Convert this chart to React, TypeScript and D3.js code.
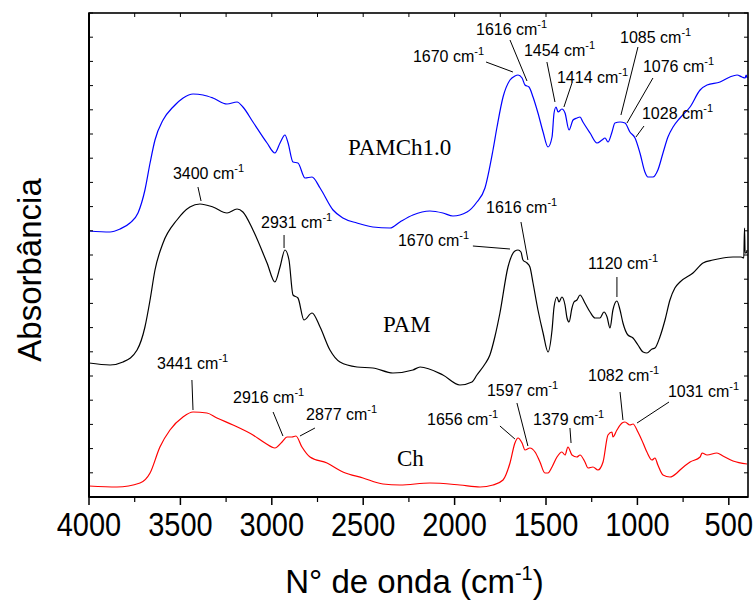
import React from 'react';
import * as d3 from 'd3';

// ---- Data (wavenumber cm^-1, absorbance a.u., stacked/offset) ----
const PAMCH_WN = [4000,3885,3830,3776,3732,3694,3666,3639,3595,3540,3485,3431,3376,3322,3245,3190,3158,3103,3026,2983,2955,2928,2911,2884,2857,2818,2780,2736,2665,2611,2534,2447,2353,2299,2228,2135,2064,2009,1932,1878,1834,1790,1768,1735,1697,1670,1653,1631,1615,1593,1571,1544,1516,1489,1467,1456,1445,1434,1413,1396,1374,1352,1331,1314,1298,1259,1221,1194,1177,1161,1139,1123,1095,1068,1041,1013,986,959,943,915,888,860,833,805,767,712,657,619,548,494,455,428,411,405,400];
const PAMCH_ABS = [2.66,2.65,2.68,2.74,2.84,3.07,3.34,3.57,3.77,3.90,3.99,4.03,4.02,3.99,3.93,3.95,3.90,3.75,3.54,3.44,3.54,3.62,3.54,3.35,3.34,3.19,3.20,3.09,2.87,2.79,2.74,2.70,2.69,2.75,2.82,2.86,2.84,2.81,2.85,2.95,3.09,3.47,3.70,4.00,4.17,4.21,4.22,4.19,4.12,4.10,4.00,3.84,3.65,3.50,3.60,3.84,3.90,3.85,3.88,3.84,3.67,3.77,3.79,3.80,3.75,3.64,3.54,3.57,3.59,3.55,3.65,3.74,3.75,3.74,3.65,3.59,3.44,3.25,3.20,3.20,3.27,3.44,3.60,3.70,3.79,3.90,4.07,4.12,4.15,4.20,4.22,4.20,4.19,4.22,4.19];

const PAM_WN = [4000,3885,3814,3737,3694,3666,3639,3595,3519,3448,3393,3322,3245,3190,3158,3103,3026,2983,2955,2928,2906,2884,2857,2824,2780,2736,2682,2627,2534,2447,2337,2228,2189,2064,1971,1905,1878,1834,1807,1780,1752,1708,1686,1670,1653,1637,1626,1604,1588,1571,1544,1516,1489,1467,1456,1440,1429,1413,1396,1385,1374,1358,1347,1331,1314,1287,1259,1232,1205,1183,1166,1150,1134,1112,1095,1079,1052,1024,997,969,948,920,904,877,849,822,795,767,696,641,587,532,477,433,418,414,411,405,400];
const PAM_ABS = [1.34,1.32,1.35,1.47,1.70,1.97,2.27,2.54,2.77,2.90,2.93,2.90,2.84,2.88,2.85,2.67,2.34,2.15,2.30,2.47,2.37,2.02,1.99,1.77,1.84,1.70,1.47,1.35,1.30,1.29,1.24,1.27,1.30,1.22,1.12,1.15,1.22,1.33,1.42,1.60,1.84,2.30,2.42,2.46,2.47,2.45,2.37,2.34,2.30,2.14,1.87,1.64,1.45,1.67,1.90,2.00,1.95,2.00,1.92,1.79,1.75,1.89,1.95,1.97,2.02,1.94,1.85,1.79,1.79,1.85,1.80,1.69,1.87,1.96,1.87,1.74,1.62,1.59,1.52,1.45,1.44,1.48,1.49,1.60,1.77,1.97,2.09,2.15,2.24,2.34,2.37,2.39,2.40,2.40,2.39,2.69,2.44,2.44,2.47];

const CH_WN = [4000,3847,3721,3666,3612,3557,3486,3431,3355,3300,3212,3103,3037,2983,2944,2917,2890,2868,2835,2791,2698,2611,2501,2392,2299,2135,1971,1861,1790,1735,1697,1670,1653,1631,1615,1588,1560,1533,1506,1489,1467,1440,1413,1396,1380,1358,1331,1314,1287,1270,1243,1216,1188,1161,1139,1134,1112,1084,1068,1041,1024,997,969,948,920,904,888,860,822,784,767,712,657,646,619,565,532,477,400];
const CH_ABS = [0.11,0.10,0.14,0.24,0.50,0.67,0.80,0.85,0.84,0.79,0.72,0.62,0.54,0.49,0.55,0.60,0.60,0.61,0.50,0.40,0.34,0.25,0.19,0.13,0.12,0.14,0.12,0.10,0.12,0.17,0.34,0.54,0.59,0.54,0.47,0.49,0.45,0.35,0.24,0.24,0.30,0.40,0.45,0.42,0.50,0.42,0.40,0.42,0.35,0.29,0.30,0.27,0.35,0.62,0.65,0.60,0.67,0.74,0.75,0.72,0.73,0.65,0.54,0.45,0.37,0.39,0.32,0.22,0.20,0.24,0.27,0.35,0.40,0.44,0.42,0.44,0.41,0.36,0.33];

const X_MAJOR = [4000, 3500, 3000, 2500, 2000, 1500, 1000, 500];
const X_MINOR = [3750, 3250, 2750, 2250, 1750, 1250, 750];

const SERIES_NAMES = ['PAMCh1.0', 'PAM', 'Ch'];
const SERIES_COLORS = ['#0000ff', '#000000', '#ff0000'];
// curve label anchor (wavenumber, absorbance)
const SERIES_LABEL_WN = [2583, 2392, 2315];
const SERIES_LABEL_ABS = [3.42, 1.65, 0.31];

// annotations: label, text anchor (wn, abs), leader from (wn, abs) to (wn, abs)
const ANN_LABEL = ['1670','1616','1454','1414','1085','1076','1028','3400','2931','1670','1616','1120','3441','2916','2877','1656','1597','1379','1082','1031'];
const ANN_TEXT_WN = [2228,1883,1621,1440,1095,970,975,3541,3059,2310,1828,1270,3628,3212,2813,2151,1823,1571,1270,833];
const ANN_TEXT_ABS = [4.35,4.62,4.41,4.14,4.54,4.25,3.78,3.18,2.69,2.51,2.84,2.28,1.28,0.94,0.77,0.72,1.01,0.72,1.16,1.00];
const ANN_L1_WN = [1828,1697,1495,1358,997,915,964,3404,2933,1900,1637,1112,3437,2993,2764,1752,1659,1369,1095,827];
const ANN_L1_ABS = [4.35,4.57,4.35,4.14,4.50,4.19,3.71,3.10,2.62,2.51,2.75,2.20,1.17,0.85,0.69,0.71,0.94,0.69,1.05,0.95];
const ANN_L2_WN = [1681,1604,1451,1402,1090,1057,1008,3387,2933,1697,1599,1112,3431,2939,2846,1670,1599,1363,1079,1002];
const ANN_L2_ABS = [4.25,4.16,3.95,3.90,3.82,3.74,3.60,2.96,2.49,2.48,2.37,2.00,0.87,0.61,0.61,0.58,0.51,0.54,0.77,0.74];

const W = 756, H = 602;
const L = 89, R = 748, T = 13, B = 497;
const SANS = '"Liberation Sans", Arial, Helvetica, sans-serif';
const SERIF = '"Liberation Serif", "Times New Roman", serif';

export default function App() {
  const x = d3.scaleLinear().domain([4000, 395]).range([L, R]);
  const y = d3.scaleLinear().domain([0, 4.84]).range([B, T]);
  const line = d3.line<[number, number]>()
    .x(d => x(d[0]))
    .y(d => y(d[1]))
    .curve(d3.curveMonotoneX);

  const series = [
    PAMCH_WN.map((w, i) => [w, PAMCH_ABS[i]] as [number, number]),
    PAM_WN.map((w, i) => [w, PAM_ABS[i]] as [number, number]),
    CH_WN.map((w, i) => [w, CH_ABS[i]] as [number, number]),
  ];

  const yTicks = d3.range(0, 21).map(i => (4.84 * i) / 20);

  return (
    <svg width={W} height={H} style={{ position: 'absolute', left: 0, top: 0, background: '#fff' }}>
      <rect x={0} y={0} width={W} height={H} fill="#fff" />
      <defs>
        <clipPath id="plotclip">
          <rect x={L} y={T} width={R - L} height={B - T} />
        </clipPath>
      </defs>
      {/* curves */}
      <g clipPath="url(#plotclip)">
        {series.map((s, i) => (
          <path key={i} d={line(s) || ''} fill="none" stroke={SERIES_COLORS[i]} strokeWidth={1.2} />
        ))}
      </g>
      {/* frame */}
      <rect x={L} y={T} width={R - L} height={B - T} fill="none" stroke="#000" strokeWidth={1.6} />
      <line x1={L} x2={L} y1={T} y2={B} stroke="#000" strokeWidth={2} />
      <line x1={L} x2={R} y1={B} y2={B} stroke="#000" strokeWidth={2} />
      {/* x ticks bottom (outward) and top (inward) */}
      {X_MAJOR.map(v => (
        <g key={'M' + v}>
          <line x1={x(v)} x2={x(v)} y1={B} y2={B + 8} stroke="#000" strokeWidth={1.5} />
          <line x1={x(v)} x2={x(v)} y1={T} y2={T + 4} stroke="#000" strokeWidth={1} />
          <text transform={`translate(${x(v)}, ${B + 39}) scale(1, 1.15)`} textAnchor="middle" fontFamily={SANS} fontSize={29} fill="#000">{v}</text>
        </g>
      ))}
      {X_MINOR.map(v => (
        <g key={'m' + v}>
          <line x1={x(v)} x2={x(v)} y1={B} y2={B + 5} stroke="#000" strokeWidth={1.2} />
          <line x1={x(v)} x2={x(v)} y1={T} y2={T + 4} stroke="#000" strokeWidth={1} />
        </g>
      ))}
      {/* y ticks (inward on both sides) */}
      {yTicks.map((v, i) => (
        <g key={'y' + i}>
          <line x1={L} x2={L + 4} y1={y(v)} y2={y(v)} stroke="#000" strokeWidth={1} />
          <line x1={R} x2={R - 4} y1={y(v)} y2={y(v)} stroke="#000" strokeWidth={1} />
        </g>
      ))}
      {/* axis titles */}
      <text x={(L + R) / 2 - 4} y={593} textAnchor="middle" fontFamily={SANS} fontSize={33} fill="#000">
        N° de onda (cm<tspan fontSize={20} dy={-13}>-1</tspan><tspan dy={13}>)</tspan>
      </text>
      <text transform={`translate(41, ${(T + B) / 2 + 15}) rotate(-90)`} textAnchor="middle" fontFamily={SANS} fontSize={33} fill="#000">
        Absorbância
      </text>
      {/* series labels */}
      {SERIES_NAMES.map((n, i) => (
        <text key={n} x={x(SERIES_LABEL_WN[i])} y={y(SERIES_LABEL_ABS[i])} fontFamily={SERIF} fontSize={23} fill="#000">{n}</text>
      ))}
      {/* annotations */}
      {ANN_LABEL.map((lab, i) => (
        <g key={'a' + i}>
          <line x1={x(ANN_L1_WN[i])} y1={y(ANN_L1_ABS[i])} x2={x(ANN_L2_WN[i])} y2={y(ANN_L2_ABS[i])} stroke="#000" strokeWidth={1} />
          <text x={x(ANN_TEXT_WN[i])} y={y(ANN_TEXT_ABS[i])} fontFamily={SANS} fontSize={16} fill="#000">
            {lab} cm<tspan fontSize={11} dy={-7}>-1</tspan>
          </text>
        </g>
      ))}
    </svg>
  );
}
